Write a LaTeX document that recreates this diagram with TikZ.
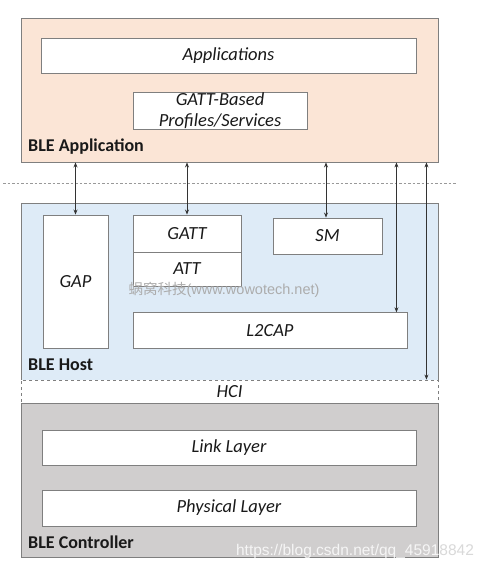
\documentclass[tikz,border=0pt]{standalone}
\usepackage{fontspec}
\setmainfont{Carlito}
\newfontfamily\cjkfont{Noto Sans CJK SC}
\newfontfamily\wmfont{Liberation Sans}
\usetikzlibrary{arrows.meta}
\definecolor{peach}{HTML}{FBE5D6}
\definecolor{hostblue}{HTML}{DEEBF7}
\definecolor{ctrlgray}{HTML}{D0CECE}
\definecolor{edgegray}{HTML}{7F7F7F}
\begin{document}
\begin{tikzpicture}[x=1pt,y=-1pt,
  region/.style={draw=edgegray, line width=0.9pt, inner sep=0pt},
  layer/.style={draw=edgegray, fill=white, line width=0.9pt, inner sep=0pt,
    font=\fontsize{18.5}{22}\selectfont\itshape, text=black!90},
  regionlabel/.style={anchor=west, inner sep=0pt, font=\fontsize{18}{20}\selectfont\bfseries, text=black!90},
  link/.style={{Stealth[length=5pt,width=4pt]}-{Stealth[length=5pt,width=4pt]}, line width=0.7pt, draw=black!80},
  sepline/.style={draw=gray!80, dashed, dash pattern=on 2.5pt off 2pt, line width=0.8pt},
  wmark/.style={inner sep=0pt, font=\wmfont\fontsize{15.5}{17}\selectfont}
]
\useasboundingbox (0,0) rectangle (487,570);
\fill[white] (0,0) rectangle (487,570);

% outer regions
\node[region, fill=peach, minimum width=417pt, minimum height=144pt] (app) at (229.5,90) {};
\node[region, fill=hostblue, minimum width=417pt, minimum height=177pt] (host) at (229.5,291.5) {};
\node[region, fill=ctrlgray, minimum width=417pt, minimum height=154pt] (ctrl) at (229.5,480) {};
\node[layer, draw=edgegray, dashed, minimum width=417pt, minimum height=23pt] (hci) at (229.5,391.5) {HCI};

% application layers
\node[layer, minimum width=375pt, minimum height=35pt] (apps) at (228.5,55.5) {Applications};
\node[layer, minimum width=174pt, minimum height=37pt, align=center] (gattb) at (220,110.5) {GATT-Based\\[-1pt]Profiles/Services};

% host layers
\node[layer, minimum width=65pt, minimum height=133pt] (gap) at (75.5,281.5) {GAP};
\node[layer, minimum width=108pt, minimum height=37pt] (gatt) at (187,233.5) {GATT};
\node[layer, minimum width=108pt, minimum height=34pt] (att) at (187,269) {ATT};
\node[layer, minimum width=109pt, minimum height=36pt] (sm) at (327.5,236) {SM};
\node[layer, minimum width=274pt, minimum height=35.5pt] (l2cap) at (270,330.5) {L2CAP};

% controller layers
\node[layer, minimum width=374pt, minimum height=35pt] (ll) at (229,447.5) {Link Layer};
\node[layer, minimum width=374pt, minimum height=36pt] (phy) at (229,508) {Physical Layer};

% region labels
\node[regionlabel] (lapp) at (28,147) {BLE Application};
\node[regionlabel] (lhost) at (28,364.5) {BLE Host};
\node[regionlabel] (lctrl) at (28,542) {BLE Controller};

% separator
\coordinate (sepL) at (3,183);
\coordinate (sepR) at (457,183);
\draw[sepline] (sepL) -- (sepR);

% connectors
\coordinate (l2capT) at ([xshift=-11pt]l2cap.north east);
\coordinate (hciT) at ([xshift=-12pt]hci.north east);
\draw[link] (app.south -| gap.north) -- (gap.north);
\draw[link] (app.south -| gatt.north) -- (gatt.north);
\draw[link] ([xshift=-1.5pt]app.south -| sm.north) -- ([xshift=-1.5pt]sm.north);
\draw[link] (app.south -| l2capT) -- (l2capT);
\draw[link] (app.south -| hciT) -- (hciT);

% watermarks
\node[inner sep=0pt, text=gray!65, font=\fontsize{14.5}{16}\selectfont] (wm1) at (224,290) {\cjkfont 蜗窝科技\wmfont(www.wowotech.net)};
\begin{scope}
  \clip (ctrl.south west) rectangle (ctrl.north east);
  \node[wmark, text=white, opacity=0.8] (wm2) at (355,551) {https://blog.csdn.net/qq\_45918842};
\end{scope}
\begin{scope}
  \clip (ctrl.north east) rectangle (487,570);
  \node[wmark, text=gray!30] (wm2b) at (355,551) {https://blog.csdn.net/qq\_45918842};
\end{scope}
\end{tikzpicture}
\end{document}
